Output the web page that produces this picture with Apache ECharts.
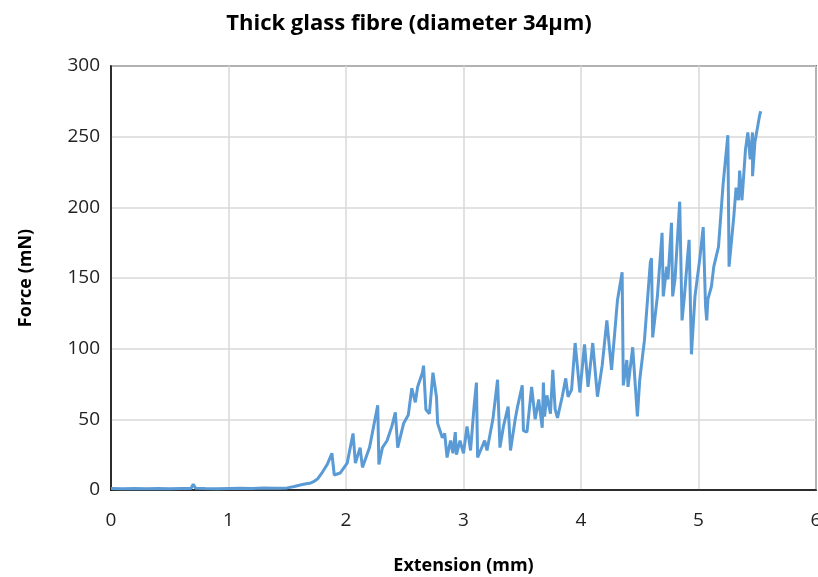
<!DOCTYPE html>
<html>
<head>
<meta charset="utf-8">
<title>Thick glass fibre</title>
<script src="https://cdn.jsdelivr.net/npm/echarts@6/dist/echarts.min.js"></script>
<style>
  html, body { margin: 0; padding: 0; background: #fff; }
  #chart { width: 818px; height: 577px; }
</style>
</head>
<body>
<div id="chart"></div>
<script>
  // extension (mm) / force (mN)
  var extension = [
    0, 0.1, 0.2, 0.3, 0.4, 0.5, 0.6, 0.68, 0.70, 0.72, 0.8, 0.9, 1.0, 1.1, 1.2, 1.3, 1.4, 1.44, 1.5, 1.56, 1.61,
    1.65, 1.70, 1.72, 1.76, 1.80, 1.84,
    1.88, 1.90, 1.95, 2.01, 2.06, 2.08, 2.12, 2.14, 2.20, 2.27, 2.28, 2.31, 2.35, 2.39, 2.42, 2.44, 2.49, 2.53,
    2.56, 2.59, 2.61, 2.65, 2.66, 2.68, 2.71, 2.74, 2.77, 2.78, 2.82, 2.84, 2.86, 2.89, 2.91, 2.93, 2.94, 2.97,
    3.00, 3.03, 3.06, 3.09, 3.11, 3.12, 3.18, 3.20, 3.25, 3.29, 3.31, 3.34, 3.38, 3.40, 3.44, 3.46, 3.50, 3.51,
    3.54, 3.58, 3.61, 3.64, 3.67, 3.68, 3.69, 3.71, 3.74, 3.76, 3.78, 3.80, 3.84, 3.87, 3.89, 3.92, 3.95, 3.97,
    3.99, 4.03, 4.06, 4.10, 4.14, 4.18, 4.22, 4.26, 4.31, 4.35, 4.36, 4.39, 4.40, 4.44, 4.48, 4.50, 4.54, 4.59,
    4.60, 4.61, 4.65, 4.69, 4.70, 4.73, 4.74, 4.77, 4.78, 4.80, 4.84, 4.86, 4.88, 4.91, 4.92, 4.94, 4.97, 5.01,
    5.04, 5.06, 5.07, 5.08, 5.11, 5.13, 5.17, 5.21, 5.25, 5.26, 5.30, 5.32, 5.34, 5.35, 5.37, 5.40, 5.42, 5.44,
    5.46, 5.46, 5.48, 5.52, 5.53
  ];
  var force = [
    1, 0.8, 1, 0.8, 1, 0.9, 1, 1, 4, 1.2, 1, 0.8, 1, 1.2, 1, 1.4, 1.2, 1.2, 1.5, 2.5, 3.5,
    4.2, 5, 5.7, 8, 12.7, 18,
    26, 10.6, 12, 19, 40, 19, 30, 16, 30, 60, 18, 30, 35, 45, 55, 30, 47, 53,
    72, 62, 73, 83, 88, 57, 54, 83, 66, 47, 37, 40, 23, 35, 26, 41, 25, 35,
    26, 45, 28, 59, 76, 23, 35, 28, 50, 78, 30, 45, 59, 28, 50, 59, 74, 42,
    41, 73, 50, 64, 44, 76, 52, 67, 54, 85, 57, 51, 66, 79, 66, 71, 104, 87,
    69, 103, 73, 104, 66, 88, 120, 85, 134, 154, 74, 92, 73, 101, 52, 78, 106, 161,
    164, 108, 137, 182, 137, 158, 149, 189, 137, 149, 204, 120, 137, 168, 177, 96, 137, 163,
    186, 130, 120, 135, 144, 158, 172, 217, 251, 158, 193, 214, 205, 226, 205, 241, 253, 234,
    253, 222, 246, 265, 268
  ];
  var xTicks = [0, 1, 2, 3, 4, 5, 6];
  var yTicks = [0, 50, 100, 150, 200, 250, 300];

  var points = extension.map(function (x, i) { return [x, force[i]]; });

  var chart = echarts.init(document.getElementById("chart"));
  chart.setOption({
    animation: false,
    textStyle: { fontFamily: "Open Sans" },
    title: {
      text: "Thick glass fibre (diameter 34\u00b5m)",
      left: "center",
      top: 8,
      textStyle: { fontSize: 22, fontWeight: "bold", color: "#000", fontFamily: "Open Sans" }
    },
    grid: {
      left: 111, right: 2, top: 66, bottom: 87,
      outerBoundsMode: "none",
      show: true, borderColor: "#000", borderWidth: 1.5
    },
    xAxis: {
      type: "value",
      min: xTicks[0], max: xTicks[xTicks.length - 1], interval: 1,
      name: "Extension (mm)",
      nameLocation: "middle",
      nameGap: 67,
      nameTextStyle: { fontSize: 18, fontWeight: "bold", color: "#000" },
      axisLine: { lineStyle: { color: "#000", width: 1.5 } },
      axisTick: { show: false },
      axisLabel: { fontSize: 19, color: "#222", margin: 21 },
      splitLine: { lineStyle: { color: "#d9d9d9", width: 1.5 } }
    },
    yAxis: {
      type: "value",
      min: yTicks[0], max: yTicks[yTicks.length - 1], interval: 50,
      name: "Force (mN)",
      nameLocation: "middle",
      nameGap: 76,
      nameTextStyle: { fontSize: 18, fontWeight: "bold", color: "#000" },
      axisLine: { show: true, lineStyle: { color: "#000", width: 1.5 } },
      axisTick: { show: false },
      axisLabel: { fontSize: 19, color: "#222", margin: 11 },
      splitLine: { lineStyle: { color: "#d9d9d9", width: 1.5 } }
    },
    series: [{
      type: "line",
      data: points,
      showSymbol: false,
      lineStyle: { color: "#5b9bd5", width: 3 },
      itemStyle: { color: "#5b9bd5" }
    }]
  });
</script>
</body>
</html>
